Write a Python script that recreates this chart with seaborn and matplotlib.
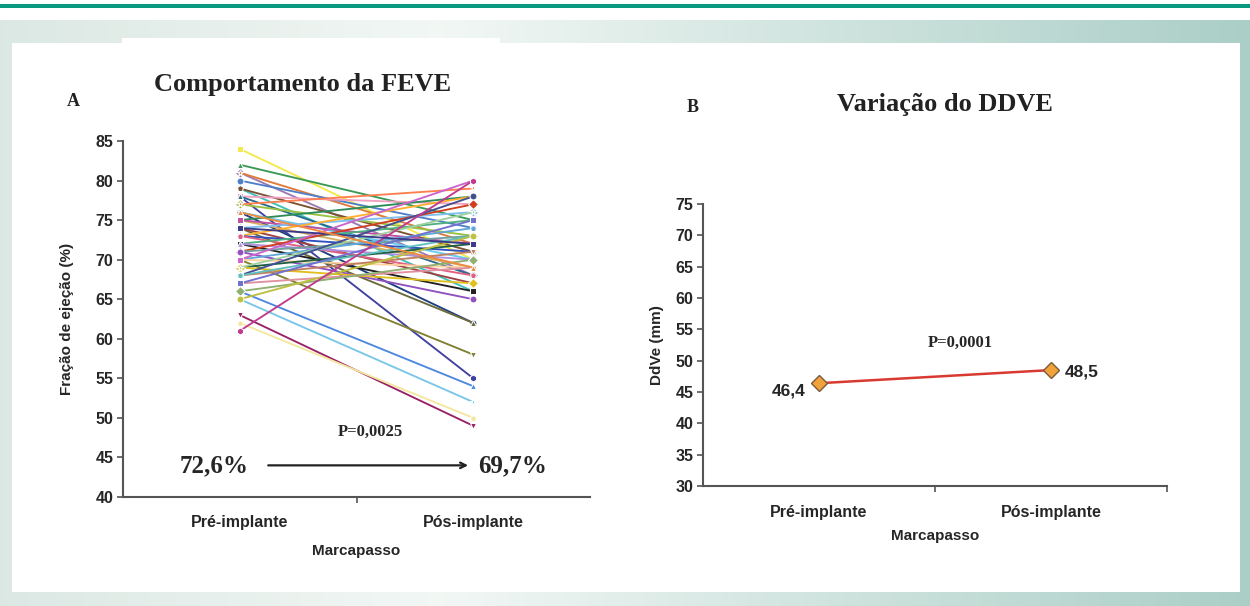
import numpy as np
import pandas as pd
import seaborn as sns
import matplotlib.pyplot as plt

# dados
momentos = ["Pré-implante", "Pós-implante"]
feve_pre = [84, 82, 81, 81, 80, 79, 79, 78, 78, 78, 77, 77, 76, 76, 75, 75, 75,
            74, 74, 74, 73, 73, 73, 72, 72, 72, 71, 71, 71, 70, 70, 70, 70, 69,
            69, 69, 68, 68, 68, 67, 67, 66, 66, 65, 65, 63, 62, 61, 74, 76]
feve_pos = [70, 75, 68, 72, 74, 66, 71, 55, 77, 68, 73, 79, 62, 70, 78, 69, 72,
            62, 76, 67, 78, 71, 68, 75, 66, 70, 77, 73, 65, 58, 74, 69, 80, 72,
            67, 76, 78, 71, 73, 69, 75, 54, 70, 52, 73, 49, 50, 80, 72, 69]
ddve_media = [46.4, 48.5]
ddve_rotulos = ["46,4", "48,5"]

sns.set_style("ticks")
plt.rcParams["font.family"] = ["Liberation Sans Narrow", "Liberation Sans", "DejaVu Sans"]

fig = plt.figure(figsize=(12.5, 6.06), dpi=100)

# fundo com degrade
bg = fig.add_axes([0, 0, 1, 1], zorder=-10)
bg.set_xlim(0, 1250)
bg.set_ylim(606, 0)
bg.axis("off")
xs = np.linspace(0, 1, 400)
stops_x = [0, 0.35, 1]
stops_c = np.array([[0.86, 0.91, 0.89], [0.95, 0.97, 0.96], [0.67, 0.81, 0.78]])
grad = np.stack([np.interp(xs, stops_x, stops_c[:, i]) for i in range(3)], axis=-1)
bg.imshow(grad[None, :, :], extent=[0, 1250, 606, 20], aspect="auto")
bg.add_patch(plt.Rectangle((0, 3.5), 1250, 4, color="#0a9a80", lw=0))
bg.add_patch(plt.Rectangle((12, 43), 1228, 549, color="white", lw=0))
bg.add_patch(plt.Rectangle((122, 38), 378, 10, color="white", lw=0))

df = pd.DataFrame({
    "paciente": np.repeat(np.arange(len(feve_pre)), 2),
    "momento": momentos * len(feve_pre),
    "feve": np.ravel(np.column_stack([feve_pre, feve_pos])),
})

cores = ["#f5e94a", "#3a9a55", "#9a7ab0", "#e07a3a", "#4f7fc8", "#3cc0c0", "#7a5230",
         "#4040a0", "#f0a0c0", "#2a6a8a", "#9ac040", "#ff7f50", "#1f3f7f", "#66ccee",
         "#2e8b57", "#d8b060", "#c050a0", "#6a6a3a", "#80c0f0", "#a04040", "#ffb030",
         "#3050c0", "#e06080", "#50b080", "#202020", "#b090e0", "#d04020", "#70a0a0",
         "#9050c0", "#808030", "#5fa8d8", "#ffd0a0", "#cc66cc", "#206040", "#e0c020",
         "#a0d0a0", "#405090", "#c08060", "#60c0c0", "#e090a0", "#7070d0", "#4d88e0",
         "#90b070", "#79c6e8", "#c0c040", "#992266", "#f3e7a0", "#c03a90", "#3a3a8a",
         "#f08a40"]
marcas = ["s", "^", "D", "*", "o", "v", "p", "h"]
marcas = [marcas[i % len(marcas)] for i in range(len(feve_pre))]

ax1 = fig.add_axes([123 / 1250, 1 - 497 / 606, 467 / 1250, 356 / 606])
sns.lineplot(data=df, x="momento", y="feve", hue="paciente", style="paciente",
             palette=cores, markers=marcas, dashes=False, markersize=5,
             linewidth=1.35, legend=False, ax=ax1)
ax1.set_xlim(-0.5, 1.5)
ax1.set_ylim(40, 85)
ax1.set_yticks(range(40, 86, 5))
ax1.set_xticks([0, 1])
ax1.set_xticks([0.5], minor=True)
ax1.tick_params(axis="x", which="major", length=0, pad=13)
ax1.tick_params(axis="x", which="minor", length=4, width=1.2, color="#555555")
ax1.tick_params(axis="y", length=4, width=1.2, color="#555555", pad=3)
for lab in ax1.get_xticklabels() + ax1.get_yticklabels():
    lab.set_fontweight("bold")
    lab.set_fontsize(11.5)
ax1.set_xlabel("Marcapasso", fontsize=11, fontweight="bold", labelpad=10)
ax1.set_ylabel("Fração de ejeção (%)", fontsize=11, fontweight="bold", labelpad=15)
for s in ["top", "right"]:
    ax1.spines[s].set_visible(False)
for s in ["left", "bottom"]:
    ax1.spines[s].set_color("#555555")
    ax1.spines[s].set_linewidth(1.5)

serif = ["Liberation Serif", "DejaVu Serif"]
ax1.text(0.56, 48.2, "P=0,0025", ha="center", va="center", fontsize=12,
         fontweight="bold", family=serif)
ax1.text(-0.11, 44, "72,6%", ha="center", va="center", fontsize=18,
         fontweight="bold", family=serif)
ax1.text(1.17, 44, "69,7%", ha="center", va="center", fontsize=18,
         fontweight="bold", family=serif)
ax1.annotate("", xy=(0.99, 44), xytext=(0.11, 44),
             arrowprops=dict(arrowstyle="->", color="#222222", lw=1.6))

# painel B
df2 = pd.DataFrame({"momento": momentos, "ddve": ddve_media})
ax2 = fig.add_axes([703 / 1250, 1 - 486 / 606, 464 / 1250, 282 / 606])
sns.lineplot(data=df2, x="momento", y="ddve", color="#d83a30", linewidth=1.8,
             marker="D", markersize=8, markerfacecolor="#f2a23a",
             markeredgecolor="#7a5a3a", markeredgewidth=1, ax=ax2)
ax2.set_xlim(-0.5, 1.5)
ax2.set_ylim(30, 75)
ax2.set_yticks(range(30, 76, 5))
ax2.set_xticks([0, 1])
ax2.set_xticks([0.5, 1.5], minor=True)
ax2.tick_params(axis="x", which="major", length=0, pad=14)
ax2.tick_params(axis="x", which="minor", length=4, width=1.2, color="#555555")
ax2.tick_params(axis="y", length=4, width=1.2, color="#555555", pad=3)
for lab in ax2.get_xticklabels() + ax2.get_yticklabels():
    lab.set_fontweight("bold")
    lab.set_fontsize(11.5)
ax2.set_xlabel("Marcapasso", fontsize=11, fontweight="bold", labelpad=6)
ax2.set_ylabel("DdVe (mm)", fontsize=11, fontweight="bold", labelpad=8)
for s in ["top", "right"]:
    ax2.spines[s].set_visible(False)
for s in ["left", "bottom"]:
    ax2.spines[s].set_color("#555555")
    ax2.spines[s].set_linewidth(1.5)

ax2.text(0.61, 52.8, "P=0,0001", ha="center", va="center", fontsize=12,
         fontweight="bold", family=serif)
ax2.text(-0.06, ddve_media[0] - 1.2, ddve_rotulos[0], ha="right", va="center",
         fontsize=12.5, fontweight="bold")
ax2.text(1.06, ddve_media[1] - 0.3, ddve_rotulos[1], ha="left", va="center",
         fontsize=12.5, fontweight="bold")

fig.text(303 / 1250, 1 - 85 / 606, "Comportamento da FEVE", ha="center", va="center",
         fontsize=19, fontweight="bold", family=serif, color="#222222")
fig.text(73 / 1250, 1 - 102 / 606, "A", ha="center", va="center",
         fontsize=13, fontweight="bold", family=serif, color="#222222")
fig.text(945 / 1250, 1 - 105 / 606, "Variação do DDVE", ha="center", va="center",
         fontsize=19, fontweight="bold", family=serif, color="#222222")
fig.text(693 / 1250, 1 - 108 / 606, "B", ha="center", va="center",
         fontsize=13, fontweight="bold", family=serif, color="#222222")

fig.savefig("out.png", dpi=100)
